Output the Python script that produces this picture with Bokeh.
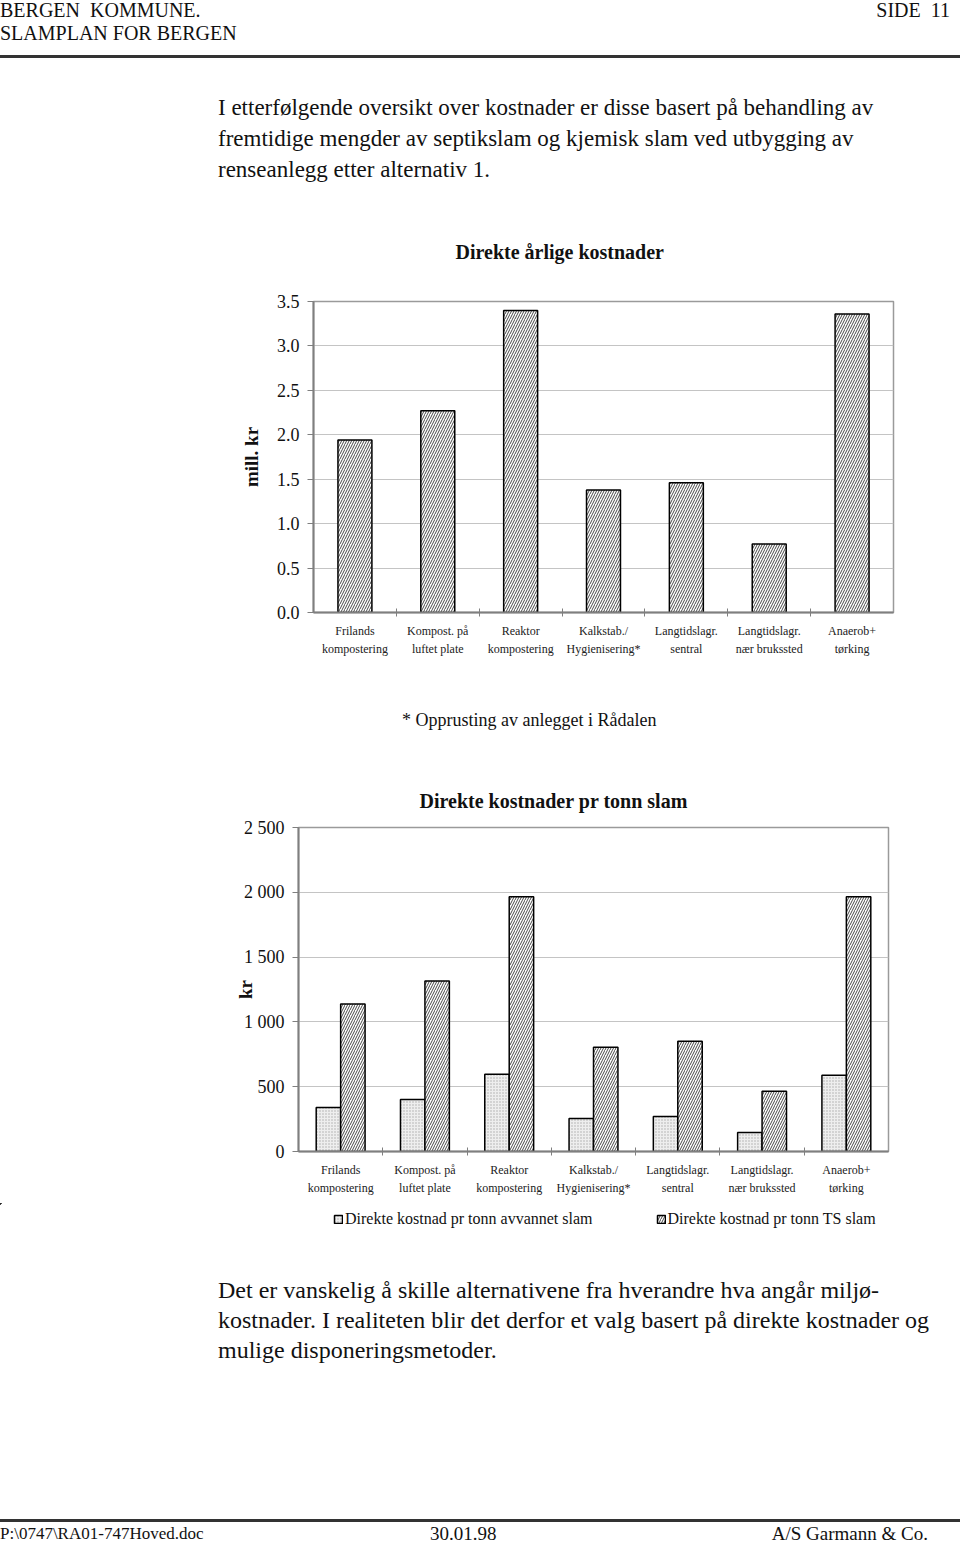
from bokeh.plotting import figure
from bokeh.models import (Range1d, LinearAxis, FixedTicker, Div, Legend, LegendItem,
                          ColumnDataSource, NumeralTickFormatter)
from bokeh.layouts import column, row
from bokeh.transform import dodge
from bokeh.embed import file_html
from bokeh.resources import INLINE

FONT = "Liberation Serif"

# ---------------- data ----------------
header_left = ["BERGEN  KOMMUNE.", "SLAMPLAN FOR BERGEN"]
header_right = "SIDE  11"
intro_lines = [
    "I etterfølgende oversikt over kostnader er disse basert på behandling av",
    "fremtidige mengder av septikslam og kjemisk slam ved utbygging av",
    "renseanlegg etter alternativ 1.",
]
categories = [
    "Frilands\nkompostering",
    "Kompost. på\nluftet plate",
    "Reaktor\nkompostering",
    "Kalkstab./\nHygienisering*",
    "Langtidslagr.\nsentral",
    "Langtidslagr.\nnær brukssted",
    "Anaerob+\ntørking",
]
chart1_title = "Direkte årlige kostnader"
chart1_ylabel = "mill. kr"
annual_cost = [1.94, 2.27, 3.40, 1.38, 1.46, 0.77, 3.36]
y1_ticks = [0.0, 0.5, 1.0, 1.5, 2.0, 2.5, 3.0, 3.5]
footnote = "* Opprusting av anlegget i Rådalen"

chart2_title = "Direkte kostnader pr tonn slam"
chart2_ylabel = "kr"
cost_dewatered = [340, 402, 596, 255, 271, 147, 588]
cost_ts = [1138, 1316, 1966, 805, 851, 464, 1966]
y2_ticks = [0, 500, 1000, 1500, 2000, 2500]
y2_tick_labels = ["0", "500", "1 000", "1 500", "2 000", "2 500"]
series_labels = ["Direkte kostnad pr tonn avvannet slam", "Direkte kostnad pr tonn TS slam"]

outro_lines = [
    "Det er vanskelig å skille alternativene fra hverandre hva angår miljø-",
    "kostnader. I realiteten blir det derfor et valg basert på direkte kostnader og",
    "mulige disponeringsmetoder.",
]
footer_left = "P:\\0747\\RA01-747Hoved.doc"
footer_mid = "30.01.98"
footer_right = "A/S Garmann & Co."

AXIS_GRAY = "#7f7f7f"
GRID_GRAY = "#c4c4c4"
DEW_STYLE = dict(fill_color="#eeeeee", line_color="black", line_width=1.5, hatch_pattern=".",
                 hatch_scale=3, hatch_weight=1, hatch_color="#aaaaaa")
TS_STYLE = dict(fill_color="white", line_color="black", line_width=1.5, hatch_pattern="/",
                hatch_scale=5, hatch_weight=0.9, hatch_color="#333333")

N = len(categories)
slot_centers = [i + 0.5 for i in range(N)]
slot_bounds = list(range(1, N))


def pos(left=None, top=0, size=19, lh=22, right=None, weight="normal", extra=""):
    s = f"position:absolute;top:{top}px;font-size:{size}px;line-height:{lh}px;white-space:pre;font-weight:{weight};"
    if left is not None:
        s += f"left:{left}px;"
    if right is not None:
        s += f"right:{right}px;"
    return s + extra


def box(inner, h):
    return (f"<div style=\"position:relative;width:960px;height:{h}px;font-family:'{FONT}';"
            f"color:#111;\">{inner}</div>")


# ---------------- top text block ----------------
inner = ""
inner += f"<div style='{pos(left=0, top=-1, size=20)}'>{header_left[0]}</div>"
inner += f"<div style='{pos(left=0, top=22, size=20)}'>{header_left[1]}</div>"
inner += f"<div style='{pos(right=10, top=-1, size=20)}'>{header_right}</div>"
inner += "<div style='position:absolute;left:0;top:55px;width:960px;height:3px;background:#333;'></div>"
for i, t in enumerate(intro_lines):
    inner += f"<div style='{pos(left=218, top=92 + 31 * i, size=23, lh=31)}'>{t}</div>"
div_a = Div(text=box(inner, 199), width=960, height=199, margin=0)


def style_common(p):
    p.background_fill_color = "white"
    p.border_fill_color = "white"
    p.outline_line_color = "#9a9a9a"
    p.outline_line_width = 1.5
    p.xgrid.grid_line_color = None
    p.ygrid.grid_line_color = GRID_GRAY
    p.yaxis.major_label_text_font = FONT
    p.yaxis.major_label_text_font_size = "18px"
    p.yaxis.major_label_text_color = "#111"
    p.yaxis.axis_line_color = AXIS_GRAY
    p.yaxis.axis_line_width = 2
    p.yaxis.major_tick_out = 6
    p.yaxis.major_tick_in = 0
    p.yaxis.major_tick_line_color = AXIS_GRAY
    p.yaxis.minor_tick_line_color = None
    p.yaxis.major_label_standoff = 8
    p.yaxis.axis_label_text_font = FONT
    p.yaxis.axis_label_text_font_style = "bold"
    p.yaxis.axis_label_text_font_size = "19px"
    p.yaxis.axis_label_text_color = "#111"
    p.title.text_font = FONT
    p.title.text_font_size = "20px"
    p.title.text_font_style = "bold"
    p.title.text_color = "#111"
    p.title.align = "left"

    tick_axis = LinearAxis(ticker=FixedTicker(ticks=slot_bounds),
                           major_label_text_font_size="1px", major_label_text_color=None,
                           major_label_standoff=0, major_tick_in=4, major_tick_out=4,
                           major_tick_line_color=AXIS_GRAY, axis_line_color=AXIS_GRAY,
                           axis_line_width=2, minor_tick_line_color=None)
    cat_axis = LinearAxis(ticker=FixedTicker(ticks=slot_centers),
                          major_label_overrides=dict(zip(slot_centers, categories)),
                          major_tick_in=0, major_tick_out=0, axis_line_color=None,
                          minor_tick_line_color=None,
                          major_label_text_font=FONT, major_label_text_font_size="12px",
                          major_label_text_line_height=1.35,
                          major_label_text_color="#222", major_label_standoff=7)
    p.add_layout(tick_axis, "below")
    p.add_layout(cat_axis, "below")


# ---------------- chart 1 ----------------
p1 = figure(width=960, height=491, x_range=Range1d(0, N), y_range=Range1d(0, 3.5),
            output_backend="svg", toolbar_location=None, x_axis_location=None,
            y_axis_location="left", title=chart1_title,
            min_border_left=313, min_border_right=67, min_border_top=102, min_border_bottom=78)
style_common(p1)
p1.title.offset = 142
p1.title.standoff = 77
p1.yaxis.ticker = FixedTicker(ticks=y1_ticks)
p1.ygrid.ticker = FixedTicker(ticks=y1_ticks)
p1.yaxis.formatter = NumeralTickFormatter(format="0.0")
p1.yaxis.axis_label = chart1_ylabel
p1.yaxis.axis_label_standoff = 12
src1 = ColumnDataSource(dict(x=slot_centers, cat=categories, cost=annual_cost))
p1.vbar(x="x", top="cost", width=0.41, source=src1, **TS_STYLE)

# ---------------- footnote ----------------
div_b = Div(text=box(f"<div style='{pos(left=402, top=19, size=18, lh=22)}'>{footnote}</div>", 80),
            width=960, height=80, margin=0)

# ---------------- chart 2 ----------------
p2 = figure(width=960, height=433, x_range=Range1d(0, N), y_range=Range1d(0, 2500),
            output_backend="svg", toolbar_location=None, x_axis_location=None,
            y_axis_location="left", title=chart2_title,
            min_border_left=298, min_border_right=72, min_border_top=57, min_border_bottom=52)
style_common(p2)
p2.title.offset = 121
p2.title.standoff = 31
p2.yaxis.ticker = FixedTicker(ticks=y2_ticks)
p2.ygrid.ticker = FixedTicker(ticks=y2_ticks)
p2.yaxis.major_label_overrides = dict(zip(y2_ticks, y2_tick_labels))
p2.yaxis.axis_label = chart2_ylabel
p2.yaxis.axis_label_standoff = -15
src2 = ColumnDataSource(dict(x=slot_centers, cat=categories, dew=cost_dewatered, ts=cost_ts))
p2.vbar(x=dodge("x", -0.145), top="dew", width=0.29, source=src2, **DEW_STYLE)
p2.vbar(x=dodge("x", 0.145), top="ts", width=0.29, source=src2, **TS_STYLE)

# ---------------- legend strip for chart 2 ----------------
# same series and styles; this strip's ranges keep the bars out of view so only the legend shows
pl = figure(width=960, height=30, x_range=Range1d(N + 2, N + 3), y_range=Range1d(-2, -1),
            output_backend="svg", toolbar_location=None, x_axis_location=None,
            y_axis_location=None, min_border_left=0, min_border_right=0,
            min_border_top=0, min_border_bottom=0, outline_line_color=None)
pl.grid.grid_line_color = None
l_dew = pl.vbar(x=dodge("x", -0.145), top="dew", width=0.29, source=src2, **DEW_STYLE)
l_ts = pl.vbar(x=dodge("x", 0.145), top="ts", width=0.29, source=src2, **TS_STYLE)
legend = Legend(items=[LegendItem(label=series_labels[0], renderers=[l_dew], index=0),
                       LegendItem(label=series_labels[1], renderers=[l_ts], index=0)],
                orientation="horizontal", location=(333, 5), glyph_width=10, glyph_height=10,
                label_standoff=2, spacing=63, padding=0, margin=0, border_line_color=None,
                background_fill_alpha=0, label_text_font=FONT, label_text_font_size="16px",
                label_text_color="#111")
pl.add_layout(legend, "center")

# ---------------- bottom text block ----------------
inner = ""
for i, t in enumerate(outro_lines):
    inner += f"<div style='{pos(left=218, top=42 + 30 * i, size=24, lh=30)}'>{t}</div>"
inner += "<div style='position:absolute;left:0;top:286px;width:960px;height:3px;background:#333;'></div>"
inner += f"<div style='{pos(left=0, top=293, size=17, lh=16)}'>{footer_left}</div>"
inner += f"<div style='{pos(left=430, top=293, size=19, lh=16)}'>{footer_mid}</div>"
inner += f"<div style='{pos(right=32, top=292, size=19, lh=17)}'>{footer_right}</div>"
div_c = Div(text=box(inner, 309), width=960, height=309, margin=0)

page = column(div_a, row(p1), div_b, row(p2), row(pl), div_c, spacing=0)
open("out.html", "w").write(file_html(page, INLINE))
